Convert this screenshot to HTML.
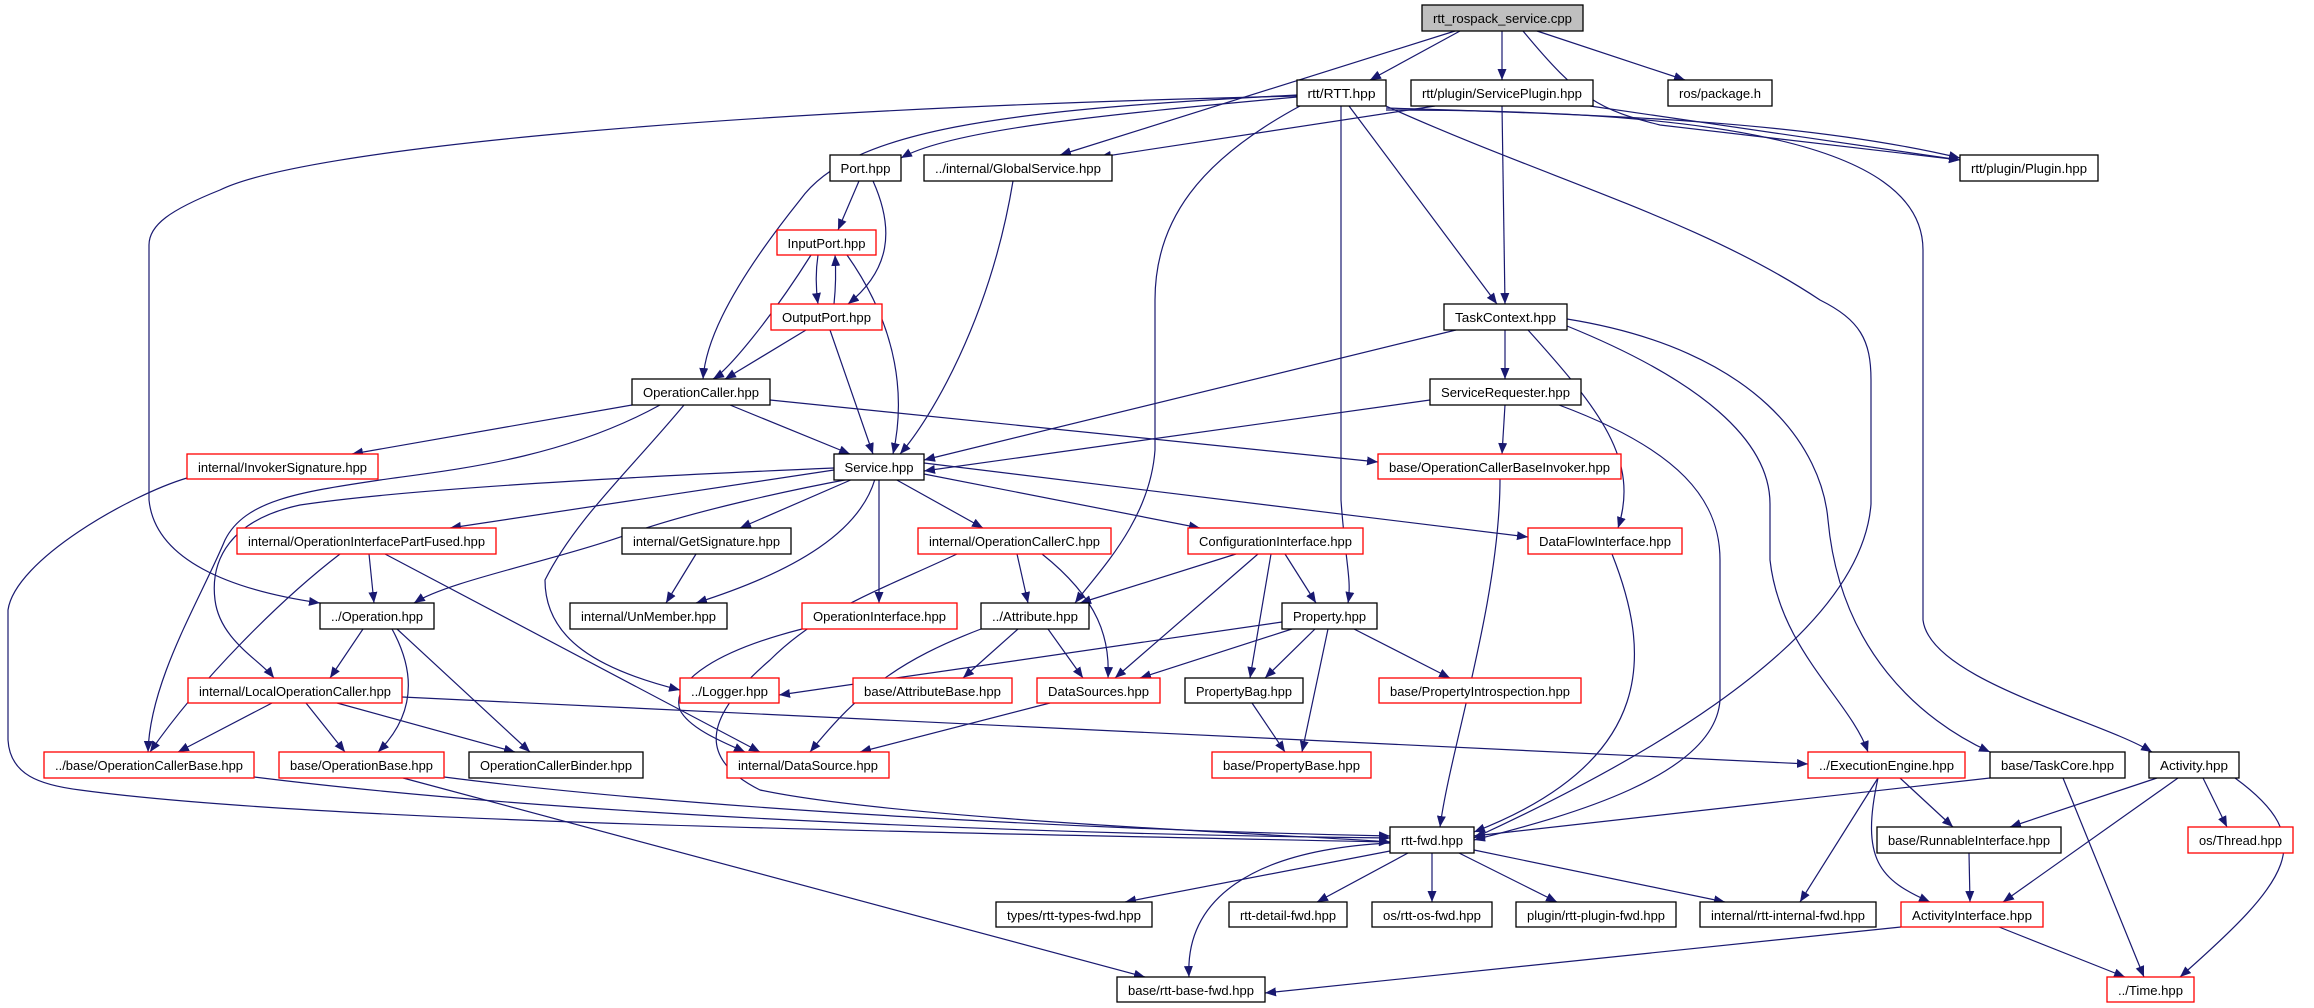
<!DOCTYPE html>
<html><head><meta charset="utf-8"><style>
html,body{margin:0;padding:0;background:#fff;}
svg{display:block;}
text{font-family:"Liberation Sans",sans-serif;font-size:13px;}
</style></head><body>
<svg width="2314" height="1008" viewBox="0 0 2314 1008" xmlns="http://www.w3.org/2000/svg">
<defs>
<marker id="a" markerUnits="userSpaceOnUse" markerWidth="12" markerHeight="10" refX="11" refY="4.5" orient="auto">
<path d="M0,0 L11,4.5 L0,9 z" fill="#191970"/>
</marker>
</defs>
<g fill="none" stroke="#191970" stroke-width="1.2" marker-end="url(#a)">
<path d="M1460,31 L1370,80"/>
<path d="M1455,31 L1060,155"/>
<path d="M1502,31 L1502,80"/>
<path d="M1537,31 L1685,80"/>
<path d="M1523,31 C1580,100 1600,110 1660,125 L1960,160"/>
<path d="M1297,97 C1100,115 950,130 901,158"/>
<path d="M1297,95 C1000,110 850,130 800,200 C720,300 705,350 703,379"/>
<path d="M1297,96 C700,110 300,150 220,190 C170,210 149,225 149,245 L149,500 C155,560 230,590 320,603"/>
<path d="M1349,106 L1497,304"/>
<path d="M1341,106 L1341,500 C1345,560 1352,580 1348,603"/>
<path d="M1300,106 C1200,160 1155,220 1155,300 L1155,450 C1150,520 1100,570 1075,603"/>
<path d="M1386,106 C1550,180 1700,220 1820,300 C1860,320 1871,340 1871,380 L1871,504 C1860,650 1600,780 1474,838"/>
<path d="M1386,108 C1600,115 1800,120 1960,158"/>
<path d="M1386,110 C1700,110 1923,140 1923,250 L1923,620 C1930,680 2100,720 2152,752"/>
<path d="M1435,106 L1100,157"/>
<path d="M1502,106 L1505,304"/>
<path d="M1590,106 L1960,160"/>
<path d="M859,181 L838,230"/>
<path d="M873,181 C895,230 890,270 848,304"/>
<path d="M818,255 C815,275 816,290 818,304"/>
<path d="M834,304 C836,285 836,270 835,255"/>
<path d="M811,255 C770,320 728,370 713,379"/>
<path d="M847,255 C900,330 905,400 893,454"/>
<path d="M806,330 L725,379"/>
<path d="M830,330 L873,454"/>
<path d="M1013,181 C990,320 930,420 900,454"/>
<path d="M1456,330 L924,460"/>
<path d="M1505,330 L1505,379"/>
<path d="M1528,330 C1600,410 1640,460 1618,528"/>
<path d="M1567,326 C1700,380 1770,440 1770,504 L1770,560 C1780,650 1850,700 1868,752"/>
<path d="M1567,319 C1760,350 1822,450 1828,520 C1840,650 1920,720 1990,752"/>
<path d="M1430,400 L924,471"/>
<path d="M1505,405 L1502,454"/>
<path d="M1559,405 C1680,450 1720,500 1720,560 L1720,700 C1715,780 1550,820 1474,840"/>
<path d="M632,405 L352,454"/>
<path d="M730,405 L850,454"/>
<path d="M770,400 L1378,462"/>
<path d="M660,405 C560,460 450,470 380,480 C300,492 245,500 225,540 C200,600 150,680 148,752"/>
<path d="M834,468 C600,478 400,490 300,505 C230,520 210,560 215,600 C220,640 260,660 274,678"/>
<path d="M684,405 C630,470 575,520 545,580 C545,640 600,670 680,690"/>
<path d="M187,478 C130,495 15,560 8,610 L8,740 C10,775 40,785 80,790 C300,820 800,830 1390,842"/>
<path d="M834,470 L450,528"/>
<path d="M853,479 L740,528"/>
<path d="M895,479 L983,528"/>
<path d="M924,474 L1200,528"/>
<path d="M924,463 L1528,537"/>
<path d="M850,479 C790,490 700,510 640,530 C560,560 450,580 414,603"/>
<path d="M875,479 C860,530 800,570 696,603"/>
<path d="M879,479 L879,603"/>
<path d="M1500,479 C1500,600 1450,750 1440,827"/>
<path d="M369,554 L374,603"/>
<path d="M340,554 C280,600 200,680 150,752"/>
<path d="M385,554 L760,752"/>
<path d="M696,554 L666,603"/>
<path d="M1017,554 L1028,603"/>
<path d="M1042,554 C1100,600 1110,640 1108,678"/>
<path d="M957,554 C880,590 820,610 770,660 C700,720 700,760 760,790 C900,820 1300,835 1390,842"/>
<path d="M802,629 C720,650 670,680 680,710 C690,730 730,745 745,752"/>
<path d="M1236,554 L1080,603"/>
<path d="M1258,554 L1115,678"/>
<path d="M1285,554 L1316,603"/>
<path d="M1271,554 L1250,678"/>
<path d="M1018,629 L963,678"/>
<path d="M1048,629 L1083,678"/>
<path d="M981,629 C900,660 860,690 810,752"/>
<path d="M1612,554 C1650,650 1660,760 1474,832"/>
<path d="M1282,622 L779,695"/>
<path d="M1292,629 L1140,678"/>
<path d="M1315,629 L1265,678"/>
<path d="M1328,629 L1302,752"/>
<path d="M1354,629 L1450,678"/>
<path d="M363,629 L330,678"/>
<path d="M392,629 C420,680 410,720 378,752"/>
<path d="M397,629 L530,752"/>
<path d="M272,703 L178,752"/>
<path d="M306,703 L345,752"/>
<path d="M337,703 L515,752"/>
<path d="M402,697 L1808,764"/>
<path d="M1050,703 L860,752"/>
<path d="M1252,703 L1285,752"/>
<path d="M254,777 C600,820 1100,835 1390,838"/>
<path d="M444,777 C700,810 1100,830 1390,836"/>
<path d="M403,778 L1145,977"/>
<path d="M1900,778 L1953,827"/>
<path d="M1878,778 C1860,860 1880,880 1930,902"/>
<path d="M1878,778 L1800,902"/>
<path d="M1990,778 L1474,836"/>
<path d="M2063,778 L2144,977"/>
<path d="M2157,778 L2010,827"/>
<path d="M2178,778 L2003,902"/>
<path d="M2203,778 L2227,827"/>
<path d="M2235,778 C2320,840 2290,880 2180,977"/>
<path d="M1390,851 L1125,902"/>
<path d="M1408,853 L1317,902"/>
<path d="M1432,853 L1432,902"/>
<path d="M1459,853 L1557,902"/>
<path d="M1474,850 L1725,902"/>
<path d="M1390,843 C1250,850 1185,900 1189,977"/>
<path d="M1969,853 L1970,902"/>
<path d="M1901,927 L1265,993"/>
<path d="M1999,927 L2125,977"/>
</g>
<g stroke-width="1.3">
<rect x="1422" y="5" width="161" height="26" fill="#bfbfbf" stroke="#000"/>
<g fill="#fff" stroke="#000">
<rect x="1297" y="80" width="89" height="26"/>
<rect x="1411" y="80" width="182" height="26"/>
<rect x="1668" y="80" width="104" height="26"/>
<rect x="1960" y="155" width="138" height="26"/>
<rect x="830" y="155" width="71" height="26"/>
<rect x="924" y="155" width="188" height="26"/>
<rect x="1444" y="304" width="123" height="26"/>
<rect x="632" y="379" width="138" height="26"/>
<rect x="1430" y="379" width="151" height="26"/>
<rect x="834" y="454" width="90" height="26"/>
<rect x="622" y="528" width="169" height="26"/>
<rect x="320" y="603" width="114" height="26"/>
<rect x="570" y="603" width="157" height="26"/>
<rect x="981" y="603" width="108" height="26"/>
<rect x="1282" y="603" width="95" height="26"/>
<rect x="1185" y="678" width="118" height="25"/>
<rect x="469" y="752" width="174" height="26"/>
<rect x="1990" y="752" width="135" height="26"/>
<rect x="2149" y="752" width="90" height="26"/>
<rect x="1390" y="827" width="84" height="26"/>
<rect x="1877" y="827" width="184" height="26"/>
<rect x="996" y="902" width="156" height="25"/>
<rect x="1229" y="902" width="118" height="25"/>
<rect x="1372" y="902" width="120" height="25"/>
<rect x="1516" y="902" width="160" height="25"/>
<rect x="1700" y="902" width="176" height="25"/>
<rect x="1117" y="977" width="148" height="25"/>
</g>
<g fill="#fff" stroke="#ff0000">
<rect x="777" y="230" width="99" height="25"/>
<rect x="771" y="304" width="111" height="26"/>
<rect x="187" y="454" width="191" height="25"/>
<rect x="1378" y="454" width="243" height="25"/>
<rect x="237" y="528" width="259" height="26"/>
<rect x="918" y="528" width="193" height="26"/>
<rect x="1188" y="528" width="175" height="26"/>
<rect x="1528" y="528" width="154" height="26"/>
<rect x="802" y="603" width="155" height="26"/>
<rect x="188" y="678" width="214" height="25"/>
<rect x="680" y="678" width="99" height="25"/>
<rect x="853" y="678" width="159" height="25"/>
<rect x="1037" y="678" width="123" height="25"/>
<rect x="1379" y="678" width="202" height="25"/>
<rect x="44" y="752" width="210" height="26"/>
<rect x="279" y="752" width="165" height="26"/>
<rect x="727" y="752" width="162" height="26"/>
<rect x="1212" y="752" width="159" height="26"/>
<rect x="1808" y="752" width="157" height="26"/>
<rect x="2188" y="827" width="105" height="26"/>
<rect x="1901" y="902" width="142" height="25"/>
<rect x="2107" y="977" width="87" height="25"/>
</g>
</g>
<g fill="#000" text-anchor="middle" lengthAdjust="spacingAndGlyphs">
<text x="1502.5" y="23" textLength="139" lengthAdjust="spacingAndGlyphs">rtt_rospack_service.cpp</text>
<text x="1341.5" y="98" textLength="68" lengthAdjust="spacingAndGlyphs">rtt/RTT.hpp</text>
<text x="1502" y="98" textLength="160" lengthAdjust="spacingAndGlyphs">rtt/plugin/ServicePlugin.hpp</text>
<text x="1720" y="98" textLength="82" lengthAdjust="spacingAndGlyphs">ros/package.h</text>
<text x="2029" y="173" textLength="116" lengthAdjust="spacingAndGlyphs">rtt/plugin/Plugin.hpp</text>
<text x="865.5" y="173" textLength="50" lengthAdjust="spacingAndGlyphs">Port.hpp</text>
<text x="1018" y="173" textLength="166" lengthAdjust="spacingAndGlyphs">../internal/GlobalService.hpp</text>
<text x="826.5" y="248" textLength="78" lengthAdjust="spacingAndGlyphs">InputPort.hpp</text>
<text x="826.5" y="322" textLength="89" lengthAdjust="spacingAndGlyphs">OutputPort.hpp</text>
<text x="1505.5" y="322" textLength="101" lengthAdjust="spacingAndGlyphs">TaskContext.hpp</text>
<text x="701" y="397" textLength="116" lengthAdjust="spacingAndGlyphs">OperationCaller.hpp</text>
<text x="1505.5" y="397" textLength="129" lengthAdjust="spacingAndGlyphs">ServiceRequester.hpp</text>
<text x="282.5" y="472" textLength="169" lengthAdjust="spacingAndGlyphs">internal/InvokerSignature.hpp</text>
<text x="879" y="472" textLength="69" lengthAdjust="spacingAndGlyphs">Service.hpp</text>
<text x="1499.5" y="472" textLength="221" lengthAdjust="spacingAndGlyphs">base/OperationCallerBaseInvoker.hpp</text>
<text x="366.5" y="546" textLength="237" lengthAdjust="spacingAndGlyphs">internal/OperationInterfacePartFused.hpp</text>
<text x="706.5" y="546" textLength="147" lengthAdjust="spacingAndGlyphs">internal/GetSignature.hpp</text>
<text x="1014.5" y="546" textLength="171" lengthAdjust="spacingAndGlyphs">internal/OperationCallerC.hpp</text>
<text x="1275.5" y="546" textLength="153" lengthAdjust="spacingAndGlyphs">ConfigurationInterface.hpp</text>
<text x="1605" y="546" textLength="132" lengthAdjust="spacingAndGlyphs">DataFlowInterface.hpp</text>
<text x="377" y="621" textLength="92" lengthAdjust="spacingAndGlyphs">../Operation.hpp</text>
<text x="648.5" y="621" textLength="135" lengthAdjust="spacingAndGlyphs">internal/UnMember.hpp</text>
<text x="879.5" y="621" textLength="133" lengthAdjust="spacingAndGlyphs">OperationInterface.hpp</text>
<text x="1035" y="621" textLength="86" lengthAdjust="spacingAndGlyphs">../Attribute.hpp</text>
<text x="1329.5" y="621" textLength="73" lengthAdjust="spacingAndGlyphs">Property.hpp</text>
<text x="295" y="696" textLength="192" lengthAdjust="spacingAndGlyphs">internal/LocalOperationCaller.hpp</text>
<text x="729.5" y="696" textLength="77" lengthAdjust="spacingAndGlyphs">../Logger.hpp</text>
<text x="932.5" y="696" textLength="137" lengthAdjust="spacingAndGlyphs">base/AttributeBase.hpp</text>
<text x="1098.5" y="696" textLength="101" lengthAdjust="spacingAndGlyphs">DataSources.hpp</text>
<text x="1244" y="696" textLength="96" lengthAdjust="spacingAndGlyphs">PropertyBag.hpp</text>
<text x="1480" y="696" textLength="180" lengthAdjust="spacingAndGlyphs">base/PropertyIntrospection.hpp</text>
<text x="149" y="770" textLength="188" lengthAdjust="spacingAndGlyphs">../base/OperationCallerBase.hpp</text>
<text x="361.5" y="770" textLength="143" lengthAdjust="spacingAndGlyphs">base/OperationBase.hpp</text>
<text x="556" y="770" textLength="152" lengthAdjust="spacingAndGlyphs">OperationCallerBinder.hpp</text>
<text x="808" y="770" textLength="140" lengthAdjust="spacingAndGlyphs">internal/DataSource.hpp</text>
<text x="1291.5" y="770" textLength="137" lengthAdjust="spacingAndGlyphs">base/PropertyBase.hpp</text>
<text x="1886.5" y="770" textLength="135" lengthAdjust="spacingAndGlyphs">../ExecutionEngine.hpp</text>
<text x="2057.5" y="770" textLength="113" lengthAdjust="spacingAndGlyphs">base/TaskCore.hpp</text>
<text x="2194" y="770" textLength="68" lengthAdjust="spacingAndGlyphs">Activity.hpp</text>
<text x="1432" y="845" textLength="62" lengthAdjust="spacingAndGlyphs">rtt-fwd.hpp</text>
<text x="1969" y="845" textLength="162" lengthAdjust="spacingAndGlyphs">base/RunnableInterface.hpp</text>
<text x="2240.5" y="845" textLength="83" lengthAdjust="spacingAndGlyphs">os/Thread.hpp</text>
<text x="1074" y="920" textLength="134" lengthAdjust="spacingAndGlyphs">types/rtt-types-fwd.hpp</text>
<text x="1288" y="920" textLength="96" lengthAdjust="spacingAndGlyphs">rtt-detail-fwd.hpp</text>
<text x="1432" y="920" textLength="98" lengthAdjust="spacingAndGlyphs">os/rtt-os-fwd.hpp</text>
<text x="1596" y="920" textLength="138" lengthAdjust="spacingAndGlyphs">plugin/rtt-plugin-fwd.hpp</text>
<text x="1788" y="920" textLength="154" lengthAdjust="spacingAndGlyphs">internal/rtt-internal-fwd.hpp</text>
<text x="1972" y="920" textLength="120" lengthAdjust="spacingAndGlyphs">ActivityInterface.hpp</text>
<text x="1191" y="995" textLength="126" lengthAdjust="spacingAndGlyphs">base/rtt-base-fwd.hpp</text>
<text x="2150.5" y="995" textLength="65" lengthAdjust="spacingAndGlyphs">../Time.hpp</text>
</g>
</svg>
</body></html>
